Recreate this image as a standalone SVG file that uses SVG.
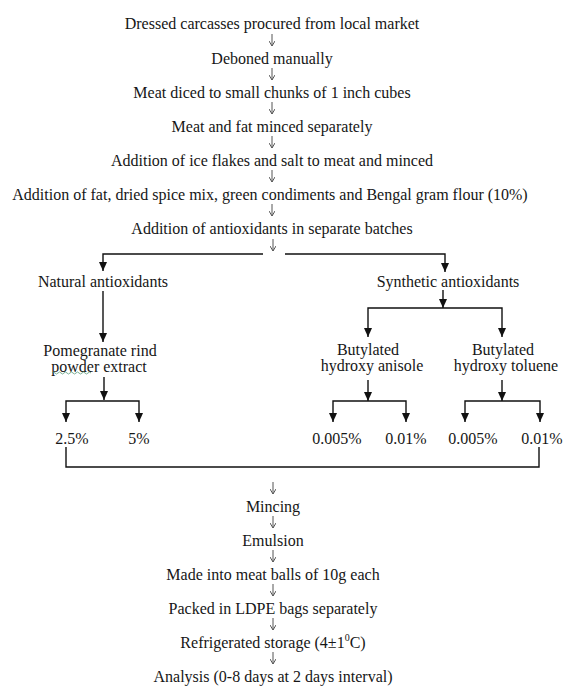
<svg xmlns="http://www.w3.org/2000/svg" width="565" height="686" viewBox="0 0 565 686">
<style>
text{font-family:"Liberation Serif","Times New Roman",serif;font-size:16px;fill:#161616;text-anchor:middle;dominant-baseline:central}
.th{stroke:#111;stroke-width:1.4;fill:none}
.sm{stroke:#555;stroke-width:1;fill:none}
</style>
<defs>
<marker id="ah" markerWidth="9" markerHeight="8" refX="9" refY="4" orient="auto-start-reverse" markerUnits="userSpaceOnUse" viewBox="0 0 9 8"><path d="M0,0 L9,4 L0,8 Z" fill="#111"/></marker>
<marker id="as" markerWidth="6" markerHeight="6" refX="3" refY="6" markerUnits="userSpaceOnUse" viewBox="0 0 6 6"><path d="M0,1 L3,6 L6,1" fill="none" stroke="#555" stroke-width="1"/></marker>
</defs>
<rect width="565" height="686" fill="#fff"/>
<g id="connectors">
<g class="sm">
<path d="M272,34 V46" marker-end="url(#as)"/>
<path d="M272,68 V80" marker-end="url(#as)"/>
<path d="M272,102 V114" marker-end="url(#as)"/>
<path d="M272,136 V148" marker-end="url(#as)"/>
<path d="M272,170 V182" marker-end="url(#as)"/>
<path d="M272,204 V216" marker-end="url(#as)"/>
<path d="M273,239 V251" marker-end="url(#as)"/>
<path d="M273,482 V494" marker-end="url(#as)"/>
<path d="M273,516 V528" marker-end="url(#as)"/>
<path d="M273,550 V562" marker-end="url(#as)"/>
<path d="M273,584 V596" marker-end="url(#as)"/>
<path d="M273,618 V630" marker-end="url(#as)"/>
<path d="M273,652 V664" marker-end="url(#as)"/>
</g>
<g class="th">
<path d="M263,254 H103 V271" marker-end="url(#ah)"/>
<path d="M285,254 H445 V272" marker-end="url(#ah)"/>
<path d="M103,291 V342" marker-end="url(#ah)"/>
<path d="M104,377 V400" marker-end="url(#ah)"/>
<path d="M66,422 V401 H139 V422" marker-start="url(#ah)" marker-end="url(#ah)"/>
<path d="M443,290 V308" marker-end="url(#ah)"/>
<path d="M368,337 V308 H502 V337" marker-start="url(#ah)" marker-end="url(#ah)"/>
<path d="M368,380 V401" marker-end="url(#ah)"/>
<path d="M333,422 V401 H406 V422" marker-start="url(#ah)" marker-end="url(#ah)"/>
<path d="M502,380 V401" marker-end="url(#ah)"/>
<path d="M465,422 V401 H540 V422" marker-start="url(#ah)" marker-end="url(#ah)"/>
<path d="M66,447 V467 H539 V447"/>
</g>
</g>
<g id="n1"><text x="272" y="23">Dressed carcasses procured from local market</text></g>
<g id="n2"><text x="272" y="58">Deboned manually</text></g>
<g id="n3"><text x="272" y="92">Meat diced to small chunks of 1 inch cubes</text></g>
<g id="n4"><text x="272" y="126">Meat and fat minced separately</text></g>
<g id="n5"><text x="272" y="160">Addition of ice flakes and salt to meat and minced</text></g>
<g id="n6"><text x="270" y="194">Addition of fat, dried spice mix, green condiments and Bengal gram flour (10%)</text></g>
<g id="n7"><text x="272" y="228">Addition of antioxidants in separate batches</text></g>
<g id="n8"><text x="103" y="281">Natural antioxidants</text></g>
<g id="n9"><text x="448" y="281">Synthetic antioxidants</text></g>
<g id="n10"><text x="100" y="350">Pomegranate rind</text><text x="99" y="366">powder extract</text>
<path d="M52,373 q1.5,-2 3,0 t3,0 t3,0 t3,0 t3,0 t3,0 t3,0 t3,0 t3,0 t3,0 t3,0 t3,0 t3,0" fill="none" stroke="#5a9a7a" stroke-width="0.8"/></g>
<g id="n11"><text x="368" y="349">Butylated</text><text x="372" y="365">hydroxy anisole</text></g>
<g id="n12"><text x="503" y="349">Butylated</text><text x="506" y="365">hydroxy toluene</text></g>
<g id="n13"><text x="72" y="438">2.5%</text></g>
<g id="n14"><text x="139" y="438">5%</text></g>
<g id="n15"><text x="337" y="438">0.005%</text></g>
<g id="n16"><text x="406" y="438">0.01%</text></g>
<g id="n17"><text x="473" y="438">0.005%</text></g>
<g id="n18"><text x="542" y="438">0.01%</text></g>
<g id="n19"><text x="273" y="506">Mincing</text></g>
<g id="n20"><text x="273" y="540">Emulsion</text></g>
<g id="n21"><text x="273" y="574">Made into meat balls of 10g each</text></g>
<g id="n22"><text x="273" y="608">Packed in LDPE bags separately</text></g>
<g id="n23"><text x="273" y="642">Refrigerated storage (4±1<tspan dy="-5" font-size="10">0</tspan><tspan dy="5">C)</tspan></text></g>
<g id="n24"><text x="273" y="676">Analysis (0-8 days at 2 days interval)</text></g>
</svg>
